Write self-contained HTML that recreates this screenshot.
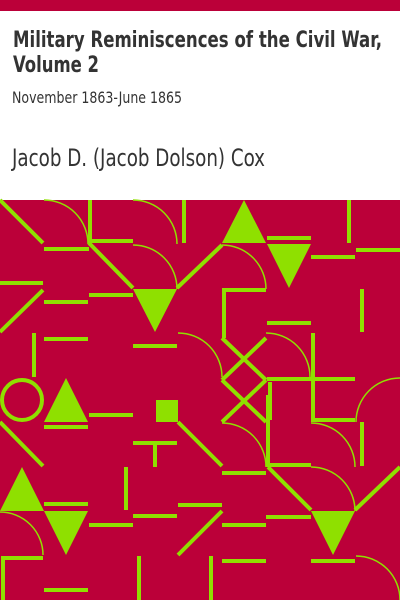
<!DOCTYPE html>
<html><head><meta charset="utf-8"><style>
html,body{margin:0;padding:0;background:#fff}
svg{display:block}
text{font-family:"DejaVu Sans Condensed","Liberation Sans",sans-serif;fill:#333}
</style></head><body>
<svg width="400" height="600" viewBox="0 0 400 600">
<rect x="0" y="0" width="400" height="11" fill="#bb0039"/>
<text x="13" y="47" font-size="22" font-weight="bold" textLength="369" lengthAdjust="spacingAndGlyphs">Military Reminiscences of the Civil War,</text>
<text x="13" y="72" font-size="22" font-weight="bold" textLength="86" lengthAdjust="spacingAndGlyphs">Volume 2</text>
<text x="12" y="103" font-size="16" textLength="170" lengthAdjust="spacingAndGlyphs">November 1863-June 1865</text>
<text x="12" y="166" font-size="24" textLength="253" lengthAdjust="spacingAndGlyphs">Jacob D. (Jacob Dolson) Cox</text>
<g>
<rect x="0" y="200" width="400" height="400" fill="#bb0039"/>
<g stroke="#8fe000" stroke-width="4" fill="none">
<line x1="0" y1="200" x2="43" y2="243"/>
<line x1="90" y1="200" x2="90" y2="243"/>
<line x1="44" y1="249" x2="89" y2="249"/>
<line x1="89" y1="241" x2="133" y2="241"/>
<line x1="184" y1="200" x2="184" y2="243"/>
<line x1="89" y1="243" x2="133" y2="288"/>
<line x1="89" y1="295" x2="133" y2="295"/>
<line x1="0" y1="283" x2="43" y2="283"/>
<line x1="43" y1="290" x2="0" y2="332"/>
<line x1="44" y1="302" x2="88" y2="302"/>
<line x1="177" y1="288" x2="222" y2="245"/>
<line x1="34" y1="333" x2="34" y2="377"/>
<line x1="44" y1="339" x2="88" y2="339"/>
<line x1="133" y1="346" x2="177" y2="346"/>
<circle cx="22" cy="400" r="20"/>
<line x1="267" y1="238" x2="311" y2="238"/>
<line x1="349" y1="200" x2="349" y2="243"/>
<line x1="311" y1="257" x2="355" y2="257"/>
<line x1="356" y1="250" x2="400" y2="250"/>
<polyline points="224,338 224,290 266,290"/>
<line x1="267" y1="323" x2="311" y2="323"/>
<line x1="362" y1="289" x2="362" y2="332"/>
<line x1="222" y1="338" x2="266" y2="380"/>
<line x1="266" y1="338" x2="222" y2="380"/>
<line x1="222" y1="380" x2="266" y2="422"/>
<line x1="266" y1="380" x2="222" y2="422"/>
<line x1="313" y1="333" x2="313" y2="400"/>
<line x1="267" y1="379" x2="355" y2="379"/>
<line x1="270" y1="382" x2="270" y2="420"/>
<line x1="44" y1="427" x2="88" y2="427"/>
<line x1="89" y1="415" x2="133" y2="415"/>
<line x1="0" y1="422" x2="43" y2="466"/>
<line x1="133" y1="443" x2="177" y2="443"/>
<line x1="155" y1="443" x2="155" y2="467"/>
<line x1="178" y1="422" x2="222" y2="466"/>
<line x1="222" y1="473" x2="266" y2="473"/>
<line x1="268" y1="395" x2="268" y2="467"/>
<line x1="266" y1="465" x2="311" y2="465"/>
<polyline points="313,395 313,420 355,420"/>
<line x1="362" y1="422" x2="362" y2="466"/>
<line x1="268" y1="467" x2="311" y2="510"/>
<line x1="355" y1="510" x2="400" y2="467"/>
<line x1="266" y1="517" x2="311" y2="517"/>
<line x1="311" y1="561" x2="355" y2="561"/>
<line x1="44" y1="504" x2="88" y2="504"/>
<line x1="89" y1="525" x2="133" y2="525"/>
<line x1="126" y1="467" x2="126" y2="510"/>
<line x1="133" y1="516" x2="177" y2="516"/>
<line x1="178" y1="505" x2="222" y2="505"/>
<line x1="222" y1="511" x2="178" y2="555"/>
<line x1="222" y1="525" x2="266" y2="525"/>
<polyline points="3,600 3,558 43,558"/>
<line x1="44" y1="590" x2="88" y2="590"/>
<line x1="139" y1="556" x2="139" y2="600"/>
<line x1="211" y1="556" x2="211" y2="600"/>
<line x1="222" y1="561" x2="266" y2="561"/>
</g>
<g stroke="#8fe000" stroke-width="1.5" fill="none">
<path d="M44,200 A44,44 0 0 1 88,244"/>
<path d="M133,200 A44,44 0 0 1 177,244"/>
<path d="M133,245 A44,44 0 0 1 177,289"/>
<path d="M178,333 A44,44 0 0 1 222,377"/>
<path d="M222,245 A44,44 0 0 1 266,289"/>
<path d="M266,333 A44,44 0 0 1 310,377"/>
<path d="M356,422 A44,44 0 0 1 400,378"/>
<path d="M222,423 A44,44 0 0 1 266,467"/>
<path d="M311,423 A44,44 0 0 1 355,467"/>
<path d="M311,467 A44,44 0 0 1 355,511"/>
<path d="M0,512 A43,43 0 0 1 43,555"/>
<path d="M356,556 A44,44 0 0 1 400,600"/>
</g>
<g fill="#8fe000">
<polygon points="133,289 177,289 155,332"/>
<polygon points="222,243 266,243 244,200"/>
<polygon points="267,244 311,244 289,288"/>
<polygon points="44,422 88,422 66,378"/>
<rect x="156" y="400" width="22" height="22"/>
<polygon points="311,511 355,511 333,555"/>
<polygon points="0,511 44,511 22,467"/>
<polygon points="44,511 88,511 66,555"/>
</g>
</g>
</svg>
</body></html>
